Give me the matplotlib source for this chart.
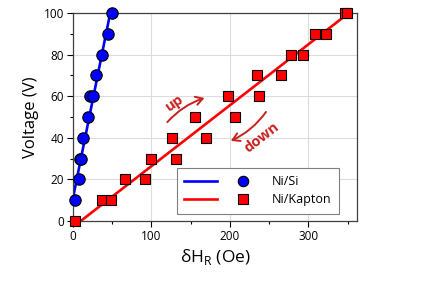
import numpy as np
import matplotlib
matplotlib.use("Agg")
import matplotlib.pyplot as plt
from matplotlib.lines import Line2D
from matplotlib.legend_handler import HandlerTuple
from matplotlib.patches import FancyArrowPatch

plt.rcParams['font.family'] = ['Open Sans', 'DejaVu Sans']

# Ni/Si data (dH_R in Oe, voltage in V)
si_dh = [3.4, 7.7, 8.8, 10.3, 13, 19, 22.5, 26, 30, 37, 45, 50.5]
si_v = [10, 20, 30, 30, 40, 50, 60, 60, 70, 80, 90, 100]

# Ni/Kapton data
kap_dh = [3, 37, 48, 66, 92, 99, 132, 126, 170, 156, 207, 198, 237,
          234, 265, 278, 293, 309, 323, 346, 349]
kap_v = [0, 10, 10, 20, 20, 30, 30, 40, 40, 50, 50, 60, 60,
         70, 70, 80, 80, 90, 90, 100, 100]

blue = '#0000ff'
red = '#ff0000'
dark_red = '#c8201e'

fig = plt.figure(figsize=(4.36, 3.08), dpi=100)
ax = fig.add_axes([0.167, 0.2825, 0.652, 0.6755])

# linear fits, drawn over the voltage range and clipped by the axes
vv = np.array([-10, 110])
p_si = np.polyfit(si_v, si_dh, 1)
p_kap = np.polyfit(kap_v, kap_dh, 1)
ax.plot(np.polyval(p_si, vv), vv, color=blue, lw=1.9, zorder=2)
ax.plot(np.polyval(p_kap, vv), vv, color=red, lw=1.9, zorder=2)

ax.plot(si_dh, si_v, 'o', color=blue, mec='black', mew=0.8, ms=8.2,
        clip_on=False, zorder=3)
ax.plot(kap_dh, kap_v, 's', color=red, mec='black', mew=0.8, ms=7.6,
        clip_on=False, zorder=3)

ax.set_xlim(0, 362)
ax.set_ylim(0, 100)
ax.set_xticks([0, 100, 200, 300])
ax.set_xticks([50, 150, 250, 350], minor=True)
ax.set_yticks(np.arange(0, 101, 20))
ax.set_yticks(np.arange(10, 100, 20), minor=True)
ax.grid(True, which='major', color='#dcdcdc', lw=0.8)
ax.set_axisbelow(True)
ax.tick_params(which='major', length=4.5, width=0.8, labelsize=8.5, pad=2)
ax.tick_params(which='minor', length=2.5, width=0.8)
for s in ax.spines.values():
    s.set_color('#404040')
    s.set_linewidth(0.9)

ax.set_xlabel('δH$_{\\mathregular{R}}$ (Oe)', fontsize=12.5, labelpad=3)
ax.set_ylabel('Voltage (V)', fontsize=12, labelpad=3)

# up / down annotations
ax.text(130, 57, 'up', color=dark_red, fontsize=10.5, fontweight='bold',
        rotation=35, ha='center', va='center')
ax.add_patch(FancyArrowPatch((118, 46.5), (171, 59.5),
                             connectionstyle='arc3,rad=-0.15',
                             arrowstyle='->,head_length=5,head_width=3',
                             color=dark_red, lw=1.4))
ax.text(241, 40, 'down', color=dark_red, fontsize=10.5, fontweight='bold',
        rotation=38, ha='center', va='center')
ax.add_patch(FancyArrowPatch((248, 53.5), (198, 38),
                             connectionstyle='arc3,rad=-0.15',
                             arrowstyle='->,head_length=5,head_width=3',
                             color=dark_red, lw=1.4))

h_si = (Line2D([], [], color=blue, lw=1.9),
        Line2D([], [], ls='none', marker='o', color=blue, mec='black',
               mew=0.8, ms=7.5))
h_kap = (Line2D([], [], color=red, lw=1.9),
         Line2D([], [], ls='none', marker='s', color=red, mec='black',
                mew=0.8, ms=7))
leg = ax.legend([h_si, h_kap], ['Ni/Si', 'Ni/Kapton'],
                handler_map={tuple: HandlerTuple(ndivide=None, pad=0.8)},
                loc='lower right', bbox_to_anchor=(0.958, 0.005),
                fontsize=9, handlelength=6, fancybox=False,
                edgecolor='#808080', framealpha=1, borderpad=0.6,
                labelspacing=0.4, handletextpad=1.0)
leg.get_frame().set_linewidth(0.8)

fig.savefig('out.png', dpi=100)
